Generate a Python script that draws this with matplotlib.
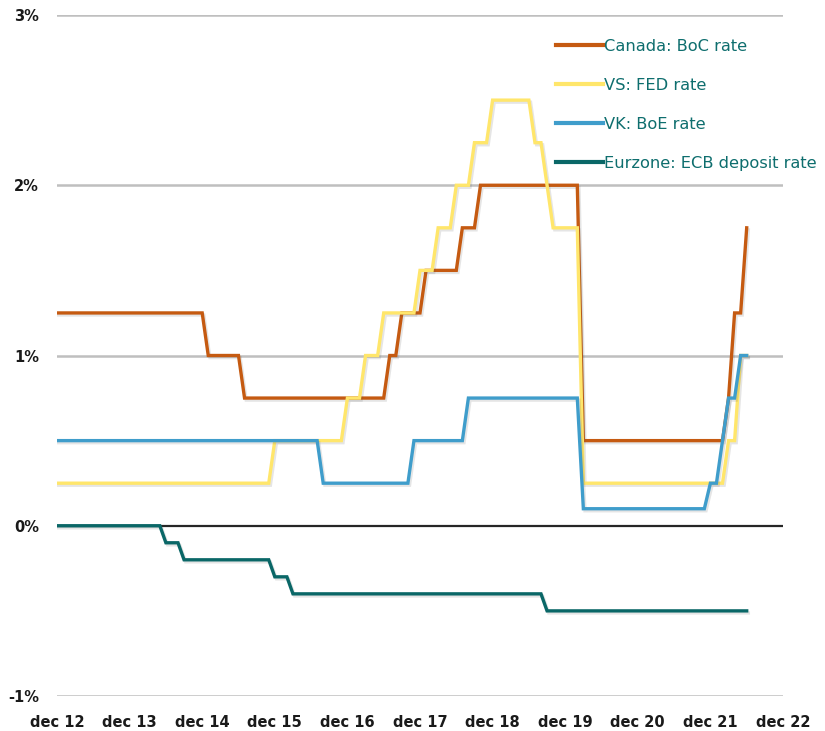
import numpy as np
import matplotlib
matplotlib.use('Agg')
import matplotlib.pyplot as plt
import matplotlib.patheffects as pe

# monthly policy rates, dec 2012 .. jun 2022, stored as (level, number of months)
boc_levels = [1.25, 1.0, 0.75, 1.0, 1.25, 1.5, 1.75, 2.0, 0.5, 0.75, 1.25, 1.75]
boc_months = [25, 6, 24, 2, 4, 6, 3, 17, 24, 1, 2, 1]

fed_levels = [0.25, 0.5, 0.75, 1.0, 1.25, 1.5, 1.75, 2.0, 2.25, 2.5, 2.25, 2.0, 1.75, 0.25, 0.5, 1.0]
fed_months = [36, 12, 3, 3, 6, 3, 3, 3, 3, 7, 2, 1, 5, 24, 2, 2]

boe_levels = [0.5, 0.25, 0.5, 0.75, 0.1, 0.25, 0.5, 0.75, 1.0]
boe_months = [44, 15, 9, 19, 21, 2, 1, 2, 2]

ecb_levels = [0.0, -0.1, -0.2, -0.3, -0.4, -0.5]
ecb_months = [18, 3, 15, 3, 42, 34]

series = [
    ('Canada: BoC rate', boc_levels, boc_months, '#C55A11'),
    ('VS: FED rate', fed_levels, fed_months, '#FFE66B'),
    ('VK: BoE rate', boe_levels, boe_months, '#3F9DCB'),
    ('Eurzone: ECB deposit rate', ecb_levels, ecb_months, '#0A6767'),
]

xtick_labels = ['dec 12', 'dec 13', 'dec 14', 'dec 15', 'dec 16', 'dec 17',
                'dec 18', 'dec 19', 'dec 20', 'dec 21', 'dec 22']
yticks = [-1, 0, 1, 2, 3]

fig = plt.figure(figsize=(8.25, 7.31), dpi=100)
ax = fig.add_axes([57/825, 35/731, (783-57)/825, (696-15)/731])

for y in yticks:
    if y == 0:
        ax.axhline(0, color='#262626', lw=1.6, zorder=1)
    else:
        ax.axhline(y, color='#BFBFBF', lw=1.8, zorder=1)

shadow = [pe.SimpleLineShadow(offset=(1.2, -1.5), alpha=0.15, shadow_color='#555555'), pe.Normal()]
for label, levels, months, color in series:
    vals = np.repeat(levels, months)
    x = np.arange(len(vals))
    ax.plot(x, vals, color=color, lw=2.4, label=label, zorder=3,
            solid_joinstyle='miter', path_effects=shadow)

ax.set_xlim(0, 120)
ax.set_ylim(-1, 3)
ax.set_xticks(np.arange(0, 121, 12))
ax.set_xticklabels(xtick_labels)
ax.set_yticks(yticks)
ax.set_yticklabels([f'{v}%' for v in yticks])
ax.tick_params(length=0)
ax.tick_params(axis='x', pad=14)
ax.tick_params(axis='y', pad=13)
for lab in ax.get_xticklabels() + ax.get_yticklabels():
    lab.set_fontweight('bold')
    lab.set_fontsize(10.5)
    lab.set_family(['Liberation Sans Narrow', 'DejaVu Sans'])
    lab.set_color('#1a1a1a')
for s in ax.spines.values():
    s.set_visible(False)

leg = ax.legend(loc='upper left', bbox_to_anchor=(556/825, 1 - 39/731),
                bbox_transform=fig.transFigure, frameon=False,
                fontsize=11.7, handlelength=2.9, handletextpad=0.08,
                labelspacing=1.47, borderaxespad=0, borderpad=0)
for t in leg.get_texts():
    t.set_color('#0E6E6E')
for h in leg.get_lines():
    h.set_linewidth(3)
    h.set_path_effects([])

fig.savefig('out.png', dpi=100)
